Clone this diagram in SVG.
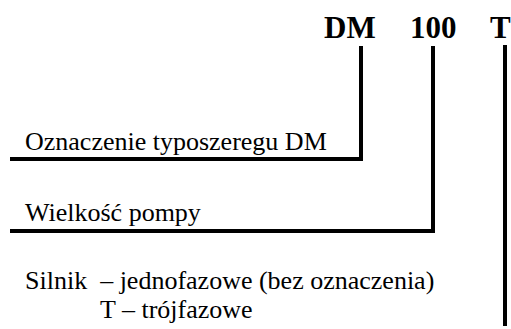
<svg xmlns="http://www.w3.org/2000/svg" width="511" height="329" viewBox="0 0 511 329">
<style>
.code{font-family:"Liberation Serif","Times New Roman",serif;font-weight:bold;font-size:31px;fill:#000}
.lbl{font-family:"Liberation Serif","Times New Roman",serif;font-size:26px;fill:#000}
.ln{stroke:#000;stroke-width:4;fill:none;stroke-linecap:square}
</style>
<rect width="511" height="329" fill="#fff"/>
<g id="code-DM"><text class="code" x="324" y="38">DM</text></g>
<g id="code-100"><text class="code" x="410" y="38">100</text></g>
<g id="code-T"><text class="code" x="490" y="38">T</text></g>
<g id="label-series"><text class="lbl" x="25" y="150">Oznaczenie typoszeregu DM</text></g>
<g id="label-size"><text class="lbl" x="25" y="221">Wielkość pompy</text></g>
<g id="label-motor">
<text class="lbl" x="25" y="289" xml:space="preserve">Silnik  – jednofazowe (bez oznaczenia)</text>
<text class="lbl" x="100" y="318">T – trójfazowe</text>
</g>
<g id="connectors">
<polyline class="ln" points="361,48 361,159 12,159"/>
<polyline class="ln" points="433,48 433,231 12,231"/>
<line class="ln" x1="505" y1="47" x2="505" y2="324"/>
</g>
</svg>
